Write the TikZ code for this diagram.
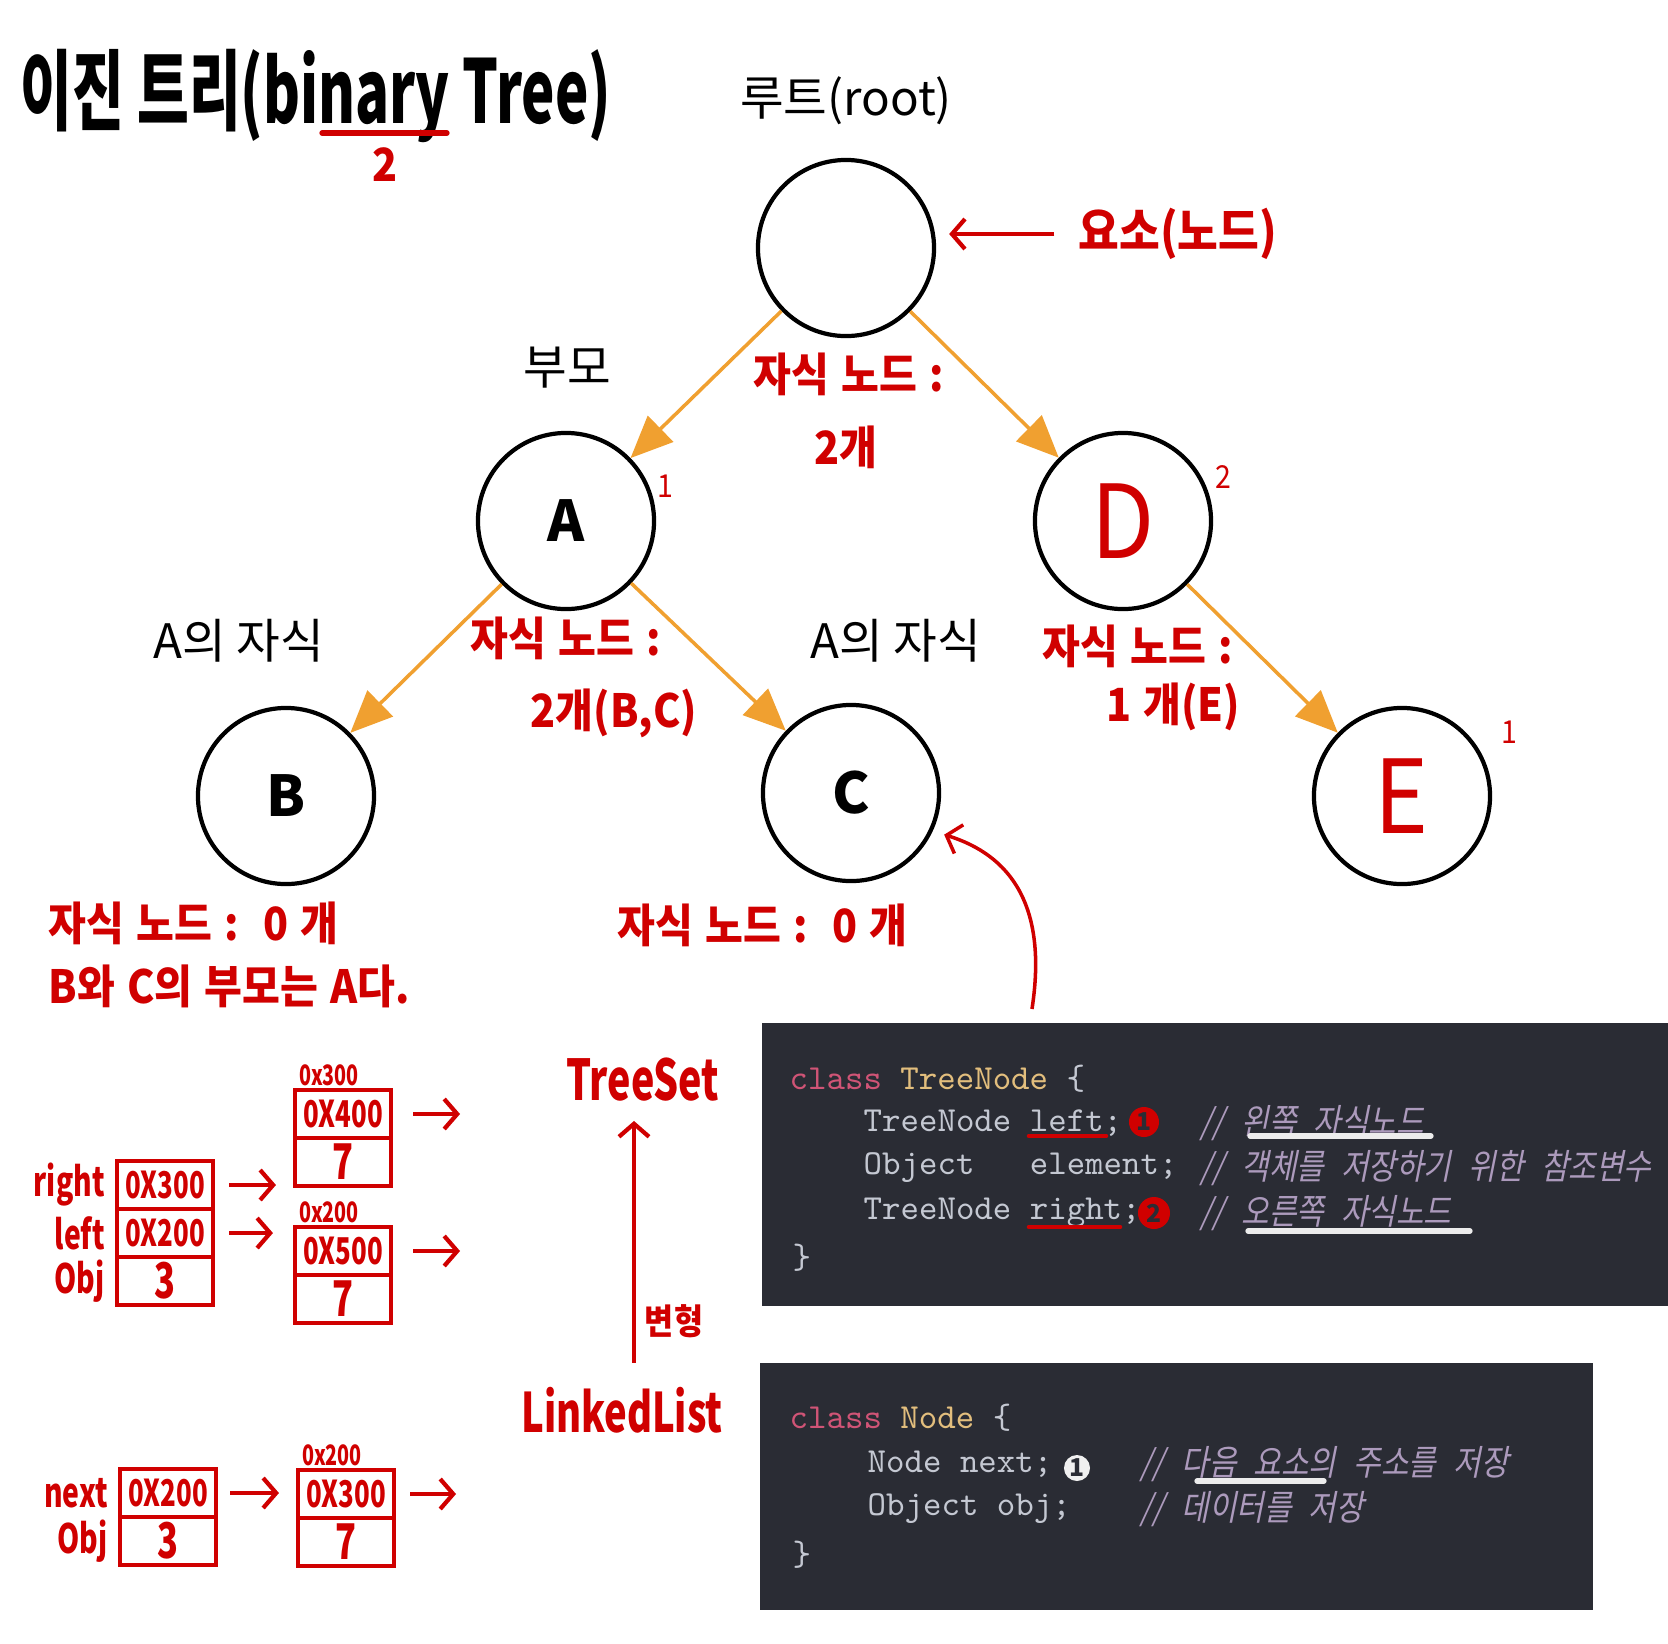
\documentclass[tikz,border=0pt]{standalone}
\usepackage{fontspec}
\setmainfont{Noto Sans CJK KR}
\newfontfamily\handfont{Noto Sans CJK KR}[FakeStretch=0.9, WordSpace=1.3]
\newfontfamily\narrowfont{Noto Sans CJK KR}[FakeStretch=0.7]
\newfontfamily\titlefont{Noto Sans CJK KR}[FakeStretch=0.64]
\newfontfamily\cmtfont{Noto Sans CJK KR}[FakeSlant=0.2, FakeStretch=0.85, WordSpace=2.6]
\usepackage{xcolor}
\usetikzlibrary{positioning, arrows.meta}
\definecolor{hred}{RGB}{208,0,0}
\definecolor{treeorange}{RGB}{240,160,48}
\definecolor{panelbg}{RGB}{42,44,52}
\definecolor{kwpink}{RGB}{208,84,118}
\definecolor{typeyellow}{RGB}{226,190,125}
\definecolor{codegray}{RGB}{196,200,210}
\definecolor{cmtpurple}{RGB}{172,154,188}
\tikzset{
    binarytree/.style={
        x=0.01cm, y=-0.01cm,
        font=\fontsize{13.5}{16}\selectfont,
        treenode/.style={draw, circle, line width=1.2pt, minimum size=1.76cm, inner sep=0pt, font=\bfseries\fontsize{16}{18}\selectfont},
        rednode/.style={treenode, text=hred, font=\handfont\fontsize{29}{30}\selectfont},
        treeedge/.style={treeorange, line width=1pt, -{Triangle[length=0.42cm, width=0.36cm]}},
        note/.style={text=hred, font=\handfont\bfseries\fontsize{13}{15}\selectfont},
        tinynum/.style={text=hred, font=\handfont\fontsize{9}{10}\selectfont},
        redarrow/.style={hred, line width=1.2pt, -{Straight Barb[length=0.13cm, width=0.3cm]}},
        cell/.style={draw=hred, line width=1.2pt, outer sep=0pt, minimum width=0.96cm, minimum height=0.48cm, inner sep=0pt, text=hred, font=\narrowfont\bfseries\fontsize{10.5}{11}\selectfont},
        digitcell/.style={cell, font=\narrowfont\bfseries\fontsize{14}{14}\selectfont},
        memlabel/.style={text=hred, inner sep=1pt, font=\narrowfont\bfseries\fontsize{11.5}{12}\selectfont},
        addr/.style={text=hred, font=\narrowfont\bfseries\fontsize{8}{8}\selectfont, inner sep=1pt},
        codeline/.style={anchor=west, inner sep=0pt, text=codegray, font=\ttfamily\fontsize{10}{12}\selectfont},
        cmt/.style={anchor=west, inner sep=0pt, text=cmtpurple, font=\cmtfont\fontsize{10}{11}\selectfont},
        redline/.style={hred, line width=1.3pt, line cap=round},
        whiteline/.style={white!85!gray, line width=1.5pt, line cap=round},
        badge/.style={circle, inner sep=0pt, minimum size=0.3cm, font=\bfseries\fontsize{7}{7}\selectfont}
    }
}
\begin{document}
\begin{tikzpicture}[binarytree]
        \useasboundingbox (0,0) rectangle (1668,1644);

        % Title
        \node[font=\titlefont\bfseries\fontsize{25}{28}\selectfont] (title) at (316,96) {이진 트리(binary Tree)};
        \draw[redline, line width=1.5pt] (322,133) -- (447,133);
        \node[note] (two) at (385,165) {2};

        % Tree nodes
        \node[treenode] (root) at (846,248) {};
        \node[treenode] (A) at (566,521) {A};
        \node[rednode] (D) at (1123,521) {D};
        \node[treenode] (B) at (286,796) {B};
        \node[treenode] (C) at (851,793) {C};
        \node[rednode] (E) at (1402,796) {E};

        % Edges
        \draw[treeedge] (root) -- (A);
        \draw[treeedge] (root) -- (D);
        \draw[treeedge] (A) -- (B);
        \draw[treeedge] (A) -- (C);
        \draw[treeedge] (D) -- (E);

        % Black labels
        \node (rootlabel) at (846,101) {루트(root)};
        \node (parent) at (567,368) {부모};
        \node (achildL) at (239,641) {A의 자식};
        \node (achildR) at (896,641) {A의 자식};

        % Element pointer
        \node[note, font=\handfont\bfseries\fontsize{14}{16}\selectfont] (elem) at (1178,234) {요소(노드)};
        \draw[redarrow, shorten <=0.12cm, shorten >=0.13cm] (elem.west) -- (elem.west -| root.east);

        % Child counts
        \node[note] (rootcnt) at (849,374) {자식 노드 :};
        \node[note] (rootnum) at (846,447) {2개};
        \node[note] (acnt) at (566,638) {자식 노드 :};
        \node[note] (anum) at (614,713) {2개(B,C)};
        \node[note] (dcnt) at (1138,646) {자식 노드 :};
        \node[note] (dnum) at (1173,707) {1 개(E)};
        \node[note, anchor=west] (bcnt) at (36,923) {자식 노드 :\ \ 0 개};
        \node[note, anchor=west] (bparent) at (36,986) {B와 C의 부모는 A다.};
        \node[note, anchor=west] (ccnt) at (605,925) {자식 노드 :\ \ 0 개};

        % Small numbers
        \node[tinynum] (anum1) at (665,486) {1};
        \node[tinynum] (dnum2) at (1223,477) {2};
        \node[tinynum] (enum1) at (1509,732) {1};

        % Pointer from code to C
        \coordinate (codetip) at (1032,1009);
        \draw[redarrow, line width=1pt, shorten >=0.12cm] (codetip) .. controls (1048,905) and (1010,855) .. (C.-25);

        % Code panels
        \fill[panelbg] (762,1023) rectangle (1668,1306);
        \fill[panelbg] (760,1363) rectangle (1593,1610);

        \node[codeline] (tn0) at (789,1079) {\textcolor{kwpink}{class} \textcolor{typeyellow}{TreeNode} \{};
        \node[codeline] (tn1) at (863,1123) {TreeNode left;};
        \node[codeline] (tn2) at (863,1168) {Object\ \ \ element;};
        \node[codeline] (tn3) at (863,1213) {TreeNode right;};
        \node[codeline] (tn4) at (792,1258) {\}};
        \node[cmt] (tc1) at (1200,1123) {// 왼쪽 자식노드};
        \node[cmt] (tc2) at (1200,1168) {// 객체를 저장하기 위한 참조변수};
        \node[cmt] (tc3) at (1200,1213) {// 오른쪽 자식노드};
        \draw[redline] (1029,1136) -- (1106,1136);
        \draw[redline] (1029,1227) -- (1120,1227);
        \draw[whiteline] (1250,1136) -- (1431,1136);
        \draw[whiteline] (1248,1231) -- (1470,1231);
        \node[badge, fill=hred, text=panelbg] (b1) at (1144,1122) {1};
        \node[badge, fill=hred, text=panelbg, minimum size=0.32cm] (b2) at (1154,1213) {2};

        \node[codeline] (nd0) at (789,1418) {\textcolor{kwpink}{class} \textcolor{typeyellow}{Node} \{};
        \node[codeline] (nd1) at (867,1464) {Node next;};
        \node[codeline] (nd2) at (867,1509) {Object obj;};
        \node[codeline] (nd3) at (792,1555) {\}};
        \node[cmt] (nc1) at (1140,1464) {// 다음 요소의 주소를 저장};
        \node[cmt] (nc2) at (1140,1509) {// 데이터를 저장};
        \draw[whiteline] (1197,1481) -- (1324,1481);
        \node[badge, fill=white!88!gray, text=panelbg, minimum size=0.26cm] (b3) at (1077,1468) {1};

        % Tree node in memory
        \node[cell] (rt) at (165,1185) {0X300};
        \node[cell, below=0pt of rt] (lf) {0X200};
        \node[digitcell, below=0pt of lf] (ob) {3};
        \node[memlabel, left=0.08cm of rt] (rtlabel) {right};
        \node[memlabel, left=0.08cm of lf] (lflabel) {left};
        \node[memlabel, left=0.08cm of ob] (oblabel) {Obj};

        \node[cell] (u1) at (343,1114) {0X400};
        \node[digitcell, below=0pt of u1] (u2) {7};
        \node[cell] (l1) at (343,1251) {0X500};
        \node[digitcell, below=0pt of l1] (l2) {7};
        \node[addr, anchor=south west] (u1addr) at (u1.north west) {0x300};
        \node[addr, anchor=south west] (l1addr) at (l1.north west) {0x200};

        \draw[redarrow, shorten <=0.16cm, shorten >=0.19cm] (rt.east) -- (rt.east -| u1.west);
        \draw[redarrow, shorten <=0.16cm, shorten >=0.22cm] (lf.east) -- (lf.east -| l1.west);
        \draw[redarrow, shorten <=0.22cm] (u1.east) -- ++(69,0);
        \draw[redarrow, shorten <=0.22cm] (l1.east) -- ++(69,0);

        % Linked list node in memory
        \node[cell] (n1) at (168,1493) {0X200};
        \node[digitcell, below=0pt of n1] (n2) {3};
        \node[memlabel, left=0.08cm of n1] (n1label) {next};
        \node[memlabel, left=0.08cm of n2] (n2label) {Obj};
        \node[cell] (m1) at (346,1494) {0X300};
        \node[digitcell, below=0pt of m1] (m2) {7};
        \node[addr, anchor=south west] (m1addr) at (m1.north west) {0x200};
        \draw[redarrow, shorten <=0.14cm, shorten >=0.19cm] (n1.east) -- (n1.east -| m1.west);
        \draw[redarrow, shorten <=0.16cm] (m1.east) -- ++(62,0);

        % LinkedList to TreeSet
        \node[memlabel, font=\narrowfont\bfseries\fontsize{16}{16}\selectfont] (treeset) at (643,1080) {TreeSet};
        \node[memlabel, font=\narrowfont\bfseries\fontsize{15.5}{16}\selectfont] (linked) at (622,1410) {LinkedList};
        \coordinate (morph) at (634,1240);
        \draw[redarrow, shorten <=0.2cm, shorten >=0.15cm] (linked.north -| morph) -- (treeset.south -| morph);
        \node[note, font=\handfont\bfseries\fontsize{10}{10}\selectfont] (morphlabel) at (674,1321) {변형};
    \end{tikzpicture}
\end{document}
